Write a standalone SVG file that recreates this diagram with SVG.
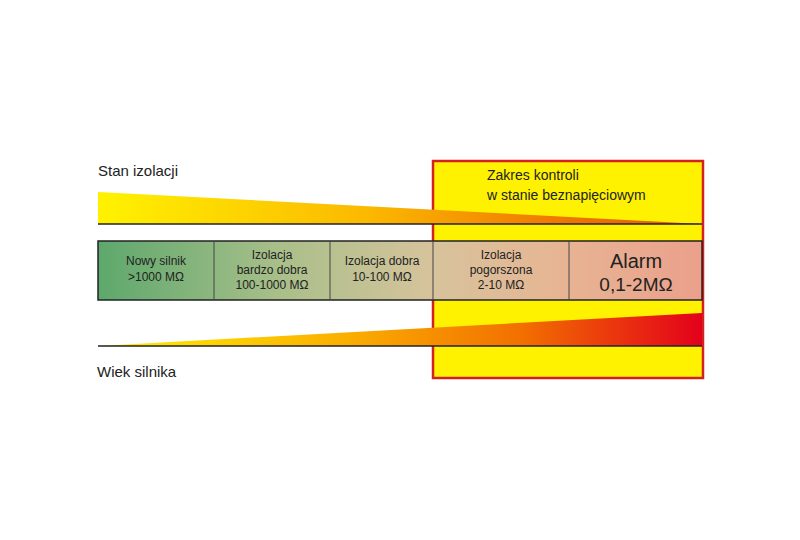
<svg xmlns="http://www.w3.org/2000/svg" width="800" height="540" viewBox="0 0 800 540">
<defs>
<linearGradient id="gTop" x1="98" y1="0" x2="702" y2="0" gradientUnits="userSpaceOnUse">
<stop offset="0" stop-color="#fff200"/><stop offset="0.45" stop-color="#fbb800"/><stop offset="0.75" stop-color="#f07a00"/><stop offset="1" stop-color="#e05a00"/>
</linearGradient>
<linearGradient id="gBot" x1="98" y1="0" x2="702" y2="0" gradientUnits="userSpaceOnUse">
<stop offset="0" stop-color="#fff200"/><stop offset="0.4" stop-color="#fbb000"/><stop offset="0.7" stop-color="#f27000"/><stop offset="1" stop-color="#e3001b"/>
</linearGradient>
<linearGradient id="gBar" x1="98" y1="0" x2="702" y2="0" gradientUnits="userSpaceOnUse">
<stop offset="0" stop-color="#5da86c"/><stop offset="0.3" stop-color="#a9bf8a"/><stop offset="0.55" stop-color="#d6c39c"/><stop offset="0.75" stop-color="#e6b694"/><stop offset="1" stop-color="#eba08c"/>
</linearGradient>
<style>
text{font-family:"Liberation Sans",Arial,sans-serif;fill:#222}
.c{text-anchor:middle;font-size:12px}
.l{font-size:15px}
</style>
</defs>
<rect width="800" height="540" fill="#fff"/>
<g id="zone"><rect x="433" y="161" width="270" height="217" fill="#fff200" stroke="#d42020" stroke-width="2.5"/>
<text x="487" y="180" style="font-size:14px">Zakres kontroli</text>
<text x="487" y="200" style="font-size:14px">w stanie beznapięciowym</text></g>
<g id="stan"><polygon points="98,192 702,224 98,224" fill="url(#gTop)"/><line x1="98" y1="224" x2="702" y2="224" stroke="#222" stroke-width="1.5"/>
<text x="98" y="176" class="l">Stan izolacji</text></g>
<g id="wiek"><polygon points="98,346 702,313 702,346" fill="url(#gBot)"/><line x1="98" y1="346" x2="702" y2="346" stroke="#222" stroke-width="1.5"/>
<text x="97" y="377" class="l">Wiek silnika</text></g>
<g id="bar"><rect x="98" y="241" width="604" height="59" fill="url(#gBar)" stroke="#222" stroke-width="1.5"/>
<g stroke="#444" stroke-width="1"><line x1="214" y1="241" x2="214" y2="300"/><line x1="330" y1="241" x2="330" y2="300"/><line x1="433" y1="241" x2="433" y2="300"/><line x1="569" y1="241" x2="569" y2="300"/></g></g>
<g id="n1"><text class="c" x="156" y="265">Nowy silnik</text><text class="c" x="156" y="281">&gt;1000 MΩ</text></g>
<g id="n2"><text class="c" x="272" y="259">Izolacja</text><text class="c" x="272" y="274">bardzo dobra</text><text class="c" x="272" y="289">100-1000 MΩ</text></g>
<g id="n3"><text class="c" x="382" y="265">Izolacja dobra</text><text class="c" x="382" y="281">10-100 MΩ</text></g>
<g id="n4"><text class="c" x="501" y="259">Izolacja</text><text class="c" x="501" y="274">pogorszona</text><text class="c" x="501" y="289">2-10 MΩ</text></g>
<g id="n5"><text class="c" x="636" y="268" style="font-size:20px">Alarm</text><text class="c" x="636" y="291" style="font-size:19px">0,1-2MΩ</text></g>
</svg>
